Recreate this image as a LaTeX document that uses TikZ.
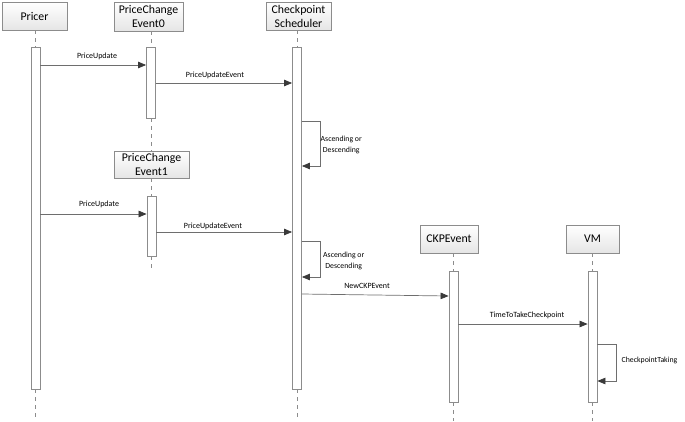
\documentclass[tikz,border=0pt]{standalone}
\usepackage{fontspec}
\setmainfont{Carlito}
\usetikzlibrary{arrows.meta}
\definecolor{lineg}{HTML}{6E6E6E}
\definecolor{boxg}{HTML}{8C8C8C}
\definecolor{tipg}{HTML}{3A3A3A}
\begin{document}
\begin{tikzpicture}[x=1pt,y=-1pt,
  objbox/.style={draw=boxg, line width=0.8pt, top color=white, bottom color=black!10, minimum width=#1, minimum height=28, inner sep=0pt, align=center, font=\fontsize{11.8}{14}\selectfont},
  actbar/.style={draw=boxg, line width=0.8pt, fill=white, minimum width=9, inner sep=0pt},
  life/.style={draw=boxg, line width=0.8pt, dash pattern=on 4pt off 4pt},
  msg/.style={draw=lineg, line width=0.7pt, -{Triangle[length=8pt,width=6.5pt]}, arrows={[color=tipg]}},
  lbl/.style={font=\fontsize{8}{9}\selectfont, inner sep=0pt, align=center},
  slbl/.style={font=\fontsize{7.8}{10.5}\selectfont, inner sep=0pt, align=center, anchor=west}]
\useasboundingbox (0,0) rectangle (685,421);
% objects
\node[objbox=65] (pricer) at (34.5,16) {Pricer};
\node[objbox=69, minimum height=29] (pce0) at (148.5,16.5) {PriceChange\\Event0};
\node[objbox=65] (cs) at (298.5,16) {Checkpoint\\Scheduler};
\node[objbox=75, minimum height=27] (pce1) at (151.5,164.5) {PriceChange\\Event1};
\node[objbox=58] (ckp) at (449,239) {CKPEvent};
\node[objbox=53] (vm) at (592.5,239) {VM};
% activation bars
\node[actbar, minimum height=342] (a1) at (35.5,218) {};
\node[actbar, minimum height=71] (a2) at (151,82.5) {};
\node[actbar, minimum height=342] (a3) at (297,218) {};
\node[actbar, minimum height=60] (a4) at (151.5,226) {};
\node[actbar, minimum height=131] (a5) at (453.5,336.5) {};
\node[actbar, minimum height=131] (a6) at (592.5,336.5) {};
% end coordinates
\coordinate (e1) at (35.5,421);
\coordinate (e3) at (297,421);
\coordinate (e4) at (151.5,268);
\coordinate (e5) at (453.5,421);
\coordinate (e6) at (592.5,421);
% lifelines
\draw[life] (a1.north |- pricer.south) -- (a1.north);
\draw[life] (a1.south) -- (e1);
\draw[life] (a2.north |- pce0.south) -- (a2.north);
\draw[life] (a2.south) -- (a2.south |- pce1.north);
\draw[life] (a4.north |- pce1.south) -- (a4.north);
\draw[life] (a4.south) -- (e4);
\draw[life] (a3.north |- cs.south) -- (a3.north);
\draw[life] (a3.south) -- (e3);
\draw[life] (a5.north |- ckp.south) -- (a5.north);
\draw[life] (a5.south) -- (e5);
\draw[life] (a6.north |- vm.south) -- (a6.north);
\draw[life] (a6.south) -- (e6);
% messages
\draw[msg] (a1.east |- 0,65) -- (a2.west |- 0,65);
\node[lbl] (m1) at (97,56) {PriceUpdate};
\draw[msg] (a2.east |- 0,83) -- (a3.west |- 0,83);
\node[lbl] (m2) at (215,75) {PriceUpdateEvent};
\draw[msg] (a3.east |- 0,121) -- ++(18,0) |- (a3.east |- 0,166);
\node[slbl] (t1) at (320.5,145) {Ascending or\\Descending};
\draw[msg] (a1.east |- 0,214) -- (a4.west |- 0,214);
\node[lbl] (m3) at (99,204) {PriceUpdate};
\draw[msg] (a4.east |- 0,232) -- (a3.west |- 0,232);
\node[lbl] (m4) at (213,226) {PriceUpdateEvent};
\draw[msg] (a3.east |- 0,241) -- ++(18,0) |- (a3.east |- 0,277);
\node[slbl] (t2) at (323,261) {Ascending or\\Descending};
\draw[msg] (a3.east |- 0,294) -- (a5.west |- 0,296);
\node[lbl] (m5) at (367,286) {NewCKPEvent};
\draw[msg] (a5.east |- 0,324) -- (a6.west |- 0,324);
\node[lbl] (m6) at (527,315) {TimeToTakeCheckpoint};
\draw[msg] (a6.east |- 0,344) -- ++(19,0) |- (a6.east |- 0,381);
\node[slbl] (t3) at (621.5,360) {CheckpointTaking};
\end{tikzpicture}
\end{document}
